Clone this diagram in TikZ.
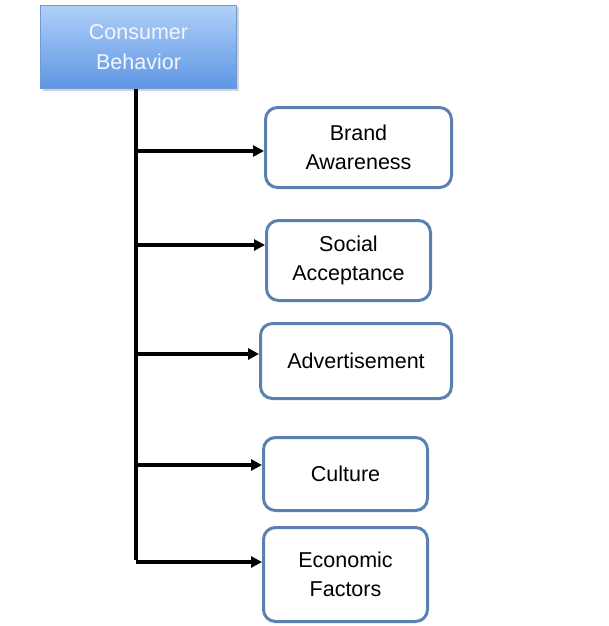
\documentclass[tikz,border=0pt]{standalone}
\usepackage{fontspec}
\setmainfont{Liberation Sans}
\usetikzlibrary{arrows.meta,shadows}
\definecolor{boxedge}{HTML}{5B80B2}
\definecolor{topA}{HTML}{AFD0F8}
\definecolor{topB}{HTML}{5E96E4}
\definecolor{topedge}{HTML}{6F9AD6}
\begin{document}
\begin{tikzpicture}[x=1pt,y=-1pt,
  factor/.style={draw=boxedge,line width=3pt,rounded corners=12pt,fill=white,
    align=center,font=\fontsize{21.5}{29}\selectfont,inner sep=0pt,anchor=north west},
  head/.style={draw=topedge,line width=1pt,top color=topA,bottom color=topB,
    align=center,text=white!96!blue,font=\fontsize{21.5}{30}\selectfont,inner sep=0pt,
    anchor=north west,drop shadow={shadow xshift=2pt,shadow yshift=-2pt,opacity=0.35}},
  link/.style={line width=3.5pt,-{Triangle[length=11pt,width=11pt]}}]
\useasboundingbox (0,0) rectangle (608,626);
\node[head,minimum width=196pt,minimum height=83pt] (cb) at (40,5) {Consumer\\Behavior};
\node[factor,minimum width=186pt,minimum height=80pt] (b1) at (264,106) {Brand\\Awareness};
\node[factor,minimum width=164pt,minimum height=80pt] (b2) at (265,219) {Social\\Acceptance};
\node[factor,minimum width=191pt,minimum height=75pt] (b3) at (259,322) {Advertisement};
\node[factor,minimum width=164pt,minimum height=73pt] (b4) at (262,436) {Culture};
\node[factor,minimum width=164pt,minimum height=94pt] (b5) at (262,526) {Economic\\Factors};
\coordinate (j1) at (136,151);
\coordinate (j2) at (136,245);
\coordinate (j3) at (136,354);
\coordinate (j4) at (136,465);
\coordinate (j5) at (136,562);
\draw[line width=3.5pt] (cb.south -| j1) -- ([yshift=1.75pt]j5);
\draw[link] (j1) -- (j1 -| b1.west);
\draw[link] (j2) -- (j2 -| b2.west);
\draw[link] (j3) -- (j3 -| b3.west);
\draw[link] (j4) -- (j4 -| b4.west);
\draw[link] (j5) -- (j5 -| b5.west);
\end{tikzpicture}
\end{document}
